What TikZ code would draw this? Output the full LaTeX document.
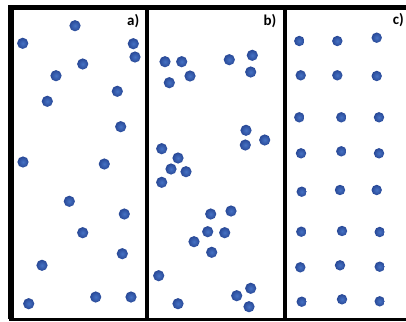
\documentclass[tikz,border=0pt]{standalone}
\usepackage{fontspec}
\setmainfont{Carlito}
\begin{document}
\begin{tikzpicture}[x=1pt,y=-1pt,
  ball/.style={inner color={rgb,255:red,70;green,114;blue,196}, outer color={rgb,255:red,40;green,72;blue,150}},
  lbl/.style={anchor=east, inner sep=0pt, font=\fontsize{15}{15}\selectfont\bfseries}]
\useasboundingbox (0,0) rectangle (406,321);
\fill[white] (0,0) rectangle (406,321);
% frame
\draw[line width=5.5pt] (11,319) -- (11,7.5) -- (406,7.5);
\draw[line width=3.5pt] (8.5,319.5) -- (406,319.5);
\draw[line width=4.5pt] (147,7.5) -- (147,321);
\draw[line width=4.5pt] (285,7.5) -- (285,321);
% labels
\node[lbl] (la) at (139.5,21) {a)};
\node[lbl] (lb) at (276.5,21) {b)};
\node[lbl] (lc) at (404,20.5) {c)};
% panel a
\foreach \p in {(75,25.7),(22.7,43.3),(133.3,43.7),(135,57),(82.7,64),(56,75.7),(117.3,91.3),(47.3,101.3),(120.7,126.7),(23,162),(104.3,164),(69.3,201.3),(124.3,214),(82.7,232.7),(122.3,253.7),(42,265.3),(28.7,303.7),(95.7,297),(131,297)}
  \shade[ball] \p circle (5.6);
% panel b
\foreach \p in {(165,61.7),(181.7,61.7),(190,76),(169.3,82.7),(229.3,59.7),(252.3,55.3),(250.7,72),(246,130.3),(264.7,140),(245.3,145),(161.7,148.7),(178,158),(171,169),(186,171.7),(161.7,182.3),(210.7,214),(231,211),(207.7,231.7),(224.7,232.7),(194,241.7),(211.7,252.3),(158.7,275.7),(250.7,288.3),(236.7,295.7),(249,306.7),(178,303.7)}
  \shade[ball] \p circle (5.6);
% panel c
\foreach \p in {(299.3,41),(337.3,41),(376.7,37.7),(300.7,75.3),(337.3,75.3),(376.7,76),(299.3,117.3),(341.3,117.3),(379,117.3),(301,153.3),(341.3,151.3),(379,153.3),(301.7,191.7),(340,190),(376.7,190),(301.3,231.7),(342,231),(379.7,232),(300.3,267.3),(340,265.3),(379.7,266.7),(301.7,301.7),(342,299.3),(379.7,301.3)}
  \shade[ball] \p circle (5.2);
\end{tikzpicture}
\end{document}
